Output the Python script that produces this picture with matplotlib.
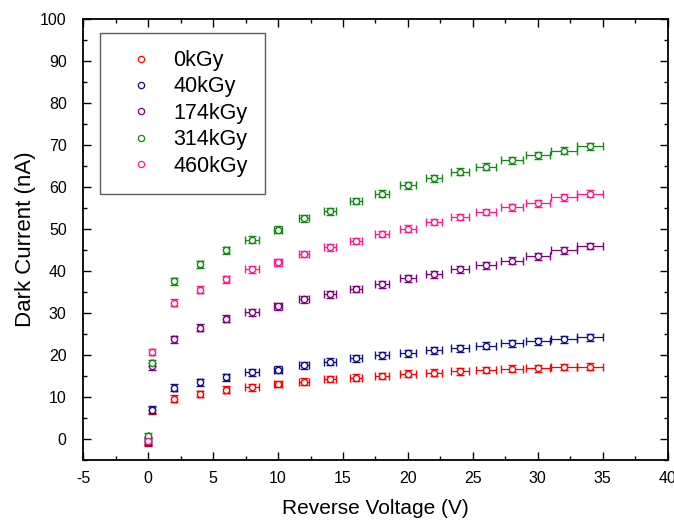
import matplotlib
matplotlib.use('Agg')
import matplotlib.pyplot as plt
from matplotlib.lines import Line2D
from matplotlib.ticker import MultipleLocator

plt.rcParams['font.family'] = ['Liberation Sans', 'DejaVu Sans']
plt.rcParams['axes.unicode_minus'] = False

# reverse voltage (V)
voltage = [0, 0.3, 2, 4, 6, 8, 10, 12, 14, 16, 18, 20, 22, 24, 26, 28, 30, 32, 34]
# horizontal error (V)
volt_err = [0.05, 0.05, 0.1, 0.15, 0.2, 0.55, 0.3, 0.37, 0.44, 0.48, 0.54,
            0.6, 0.64, 0.72, 0.79, 0.85, 0.92, 0.98, 1.0]

# dark current (nA) per dose
i_0kGy = [-0.8, 6.8, 9.6, 10.7, 11.7, 12.3, 13.1, 13.6, 14.3, 14.6, 15.0,
          15.5, 15.8, 16.1, 16.4, 16.7, 16.8, 17.1, 17.2]
i_40kGy = [-0.6, 7.0, 12.2, 13.5, 14.7, 15.9, 16.5, 17.5, 18.4, 19.2, 19.9,
           20.4, 21.1, 21.6, 22.2, 22.8, 23.2, 23.7, 24.2]
i_174kGy = [-0.4, 17.3, 23.7, 26.5, 28.6, 30.1, 31.6, 33.2, 34.4, 35.7, 36.8,
            38.2, 39.2, 40.4, 41.3, 42.4, 43.5, 44.9, 45.9]
i_314kGy = [0.6, 18.1, 37.5, 41.6, 44.9, 47.4, 49.8, 52.5, 54.2, 56.6, 58.4,
            60.4, 62.0, 63.6, 64.8, 66.3, 67.5, 68.6, 69.6]
i_460kGy = [-0.4, 20.7, 32.4, 35.5, 38.0, 40.4, 42.0, 44.0, 45.6, 47.1, 48.8,
            50.0, 51.6, 52.8, 54.0, 55.1, 56.1, 57.5, 58.4]
cur_err = 0.8

labels = ['0kGy', '40kGy', '174kGy', '314kGy', '460kGy']
series = [i_0kGy, i_40kGy, i_174kGy, i_314kGy, i_460kGy]
colors = ['#FF0000', '#10108A', '#800080', '#108A10', '#FF1A8C']

fig = plt.figure(figsize=(6.74, 5.24), dpi=100)
ax = fig.add_axes([0.1236, 0.1221, 0.867, 0.8422])

handles = []
for lab, ys, c in zip(labels, series, colors):
    ax.errorbar(voltage, ys, xerr=volt_err, yerr=cur_err, fmt='o', ms=4.5,
                mfc='white', mec=c, mew=1.0, ecolor=c, elinewidth=0.9,
                capsize=3, capthick=0.9)
    handles.append(Line2D([], [], ls='none', marker='o', ms=4.5, mfc='white',
                          mec=c, mew=0.9, label=lab))

ax.set_xlim(-5, 40)
ax.set_ylim(-5, 100)
ax.xaxis.set_major_locator(MultipleLocator(5))
ax.xaxis.set_minor_locator(MultipleLocator(2.5))
ax.yaxis.set_minor_locator(MultipleLocator(5))
ax.set_yticks(range(0, 101, 10))

for s in ax.spines.values():
    s.set_linewidth(1.3)
ax.tick_params(which='both', direction='in', top=True, right=True, width=1.0)
ax.tick_params(which='major', length=6)
ax.tick_params(which='minor', length=3)
ax.tick_params(axis='y', labelsize=11.5, pad=12)
ax.tick_params(axis='x', labelsize=11.5, pad=8)

ax.set_xlabel('Reverse Voltage (V)', fontsize=15, labelpad=9)
ax.set_ylabel('Dark Current (nA)', fontsize=16, labelpad=3)

leg = ax.legend(handles=handles, loc='upper left', bbox_to_anchor=(0.029, 0.968),
                borderaxespad=0, fontsize=15.5, frameon=True, fancybox=False,
                handletextpad=0.4, labelspacing=0.25, borderpad=0.8,
                handlelength=2.2, numpoints=1)
leg.get_frame().set_edgecolor('#333333')
leg.get_frame().set_linewidth(1.0)

fig.savefig('out.png', dpi=100)
